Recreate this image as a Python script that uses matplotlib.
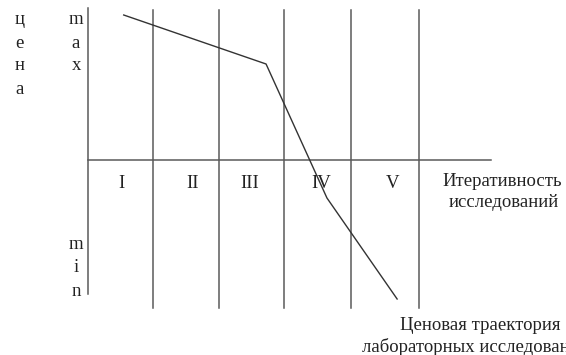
import matplotlib
matplotlib.use("Agg")
import matplotlib.pyplot as plt

plt.rcParams["font.family"] = ["Liberation Serif", "DejaVu Serif"]

# stage boundaries along the iteration axis (stage units)
stage_bounds = [0.98, 1.98, 2.96, 3.97, 5.0]
stage_labels = ["I", "II", "III", "IV", "V"]
stage_label_x = [0.5, 1.58, 2.45, 3.53, 4.6]

# price trajectory (x: iteration, y: price relative to the horizontal axis)
traj_x = [0.54, 2.69, 3.61, 4.67]
traj_y = [2.90, 1.92, -0.76, -2.78]

# axis extents
price_top, price_bottom = 3.04, -2.68
stage_top, stage_bottom = 3.0, -2.96
iter_end = 6.09

LINE = "#5a5a5a"
TEXT = "#222222"
FS = 13.5

fig = plt.figure(figsize=(5.66, 3.55), dpi=100)
ax = fig.add_axes([0, 0, 1, 1])
ax.set_xlim(-1.329, 7.221)
ax.set_ylim(-3.9, 3.2)
ax.axis("off")

# axes
ax.plot([0, 0], [price_bottom, price_top], color=LINE, lw=1.1)
ax.plot([0, iter_end], [0, 0], color=LINE, lw=1.1)

# stage dividers
for b in stage_bounds:
    ax.plot([b, b], [stage_bottom, stage_top], color=LINE, lw=1.1)

for lx, lab in zip(stage_label_x, stage_labels):
    ax.text(lx, -0.48, lab, ha="center", va="center", fontsize=FS, color=TEXT)

# trajectory
ax.plot(traj_x, traj_y, color="#333333", lw=1.0)

# vertical letters
for i, ch in enumerate("цена"):
    ax.text(-1.03, 2.80 - i * 0.46, ch, ha="center", va="center", fontsize=FS, color=TEXT)
for i, ch in enumerate("max"):
    ax.text(-0.18, 2.80 - i * 0.46, ch, ha="center", va="center", fontsize=FS, color=TEXT)
for i, ch in enumerate("min"):
    ax.text(-0.18, -1.70 - i * 0.46, ch, ha="center", va="center", fontsize=FS, color=TEXT)

ax.text(5.36, -0.44, "Итеративность", ha="left", va="center", fontsize=FS, color=TEXT)
ax.text(5.45, -0.86, "исследований", ha="left", va="center", fontsize=FS, color=TEXT)

ax.text(4.71, -3.3, "Ценовая траектория", ha="left", va="center", fontsize=FS, color=TEXT)
ax.text(4.14, -3.74, "лабораторных исследований", ha="left", va="center", fontsize=FS, color=TEXT)

fig.savefig("out.png", dpi=100)
